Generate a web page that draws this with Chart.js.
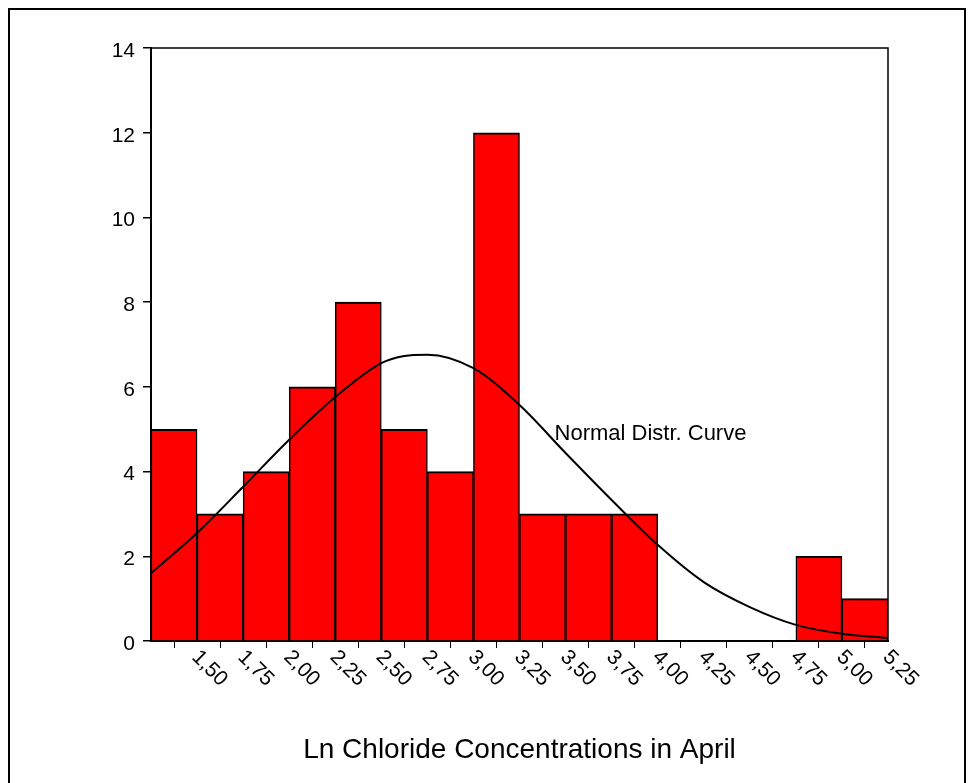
<!DOCTYPE html>
<html>
<head>
<meta charset="utf-8">
<script src="https://cdn.jsdelivr.net/npm/chart.js@4/dist/chart.umd.min.js"></script>
<style>
  body { margin: 0; background: #fff; }
  #frame { position: absolute; left: 8px; top: 8px; width: 954px; height: 820px; border: 2px solid #000; }
  #wrap { position: absolute; left: 0; top: 0; width: 973px; height: 783px; overflow: hidden; }
</style>
</head>
<body>
<div id="wrap">
  <div id="frame"></div>
  <canvas id="myChart" width="973" height="783" style="position:absolute;left:0;top:0"></canvas>
</div>
<script>
// histogram bins (lower edge of each 0,25 wide bin) and counts
const binStarts = [1.25, 1.50, 1.75, 2.00, 2.25, 2.50, 2.75, 3.00, 3.25, 3.50, 3.75, 4.00, 4.25, 4.50, 4.75, 5.00];
const counts = [5, 3, 4, 6, 8, 5, 4, 12, 3, 3, 3, 0, 0, 0, 2, 1];
const binWidth = 0.25;

// x tick labels sit on the bin edges
const tickValues = [1.50, 1.75, 2.00, 2.25, 2.50, 2.75, 3.00, 3.25, 3.50, 3.75, 4.00, 4.25, 4.50, 4.75, 5.00, 5.25];
const tickLabels = ["1,50", "1,75", "2,00", "2,25", "2,50", "2,75", "3,00", "3,25", "3,50", "3,75", "4,00", "4,25", "4,50", "4,75", "5,00", "5,25"];

// normal curve
const curveX = [1.25, 1.50, 1.75, 2.00, 2.25, 2.50, 2.625, 2.75, 3.00, 3.25, 3.50, 3.75, 4.00, 4.25, 4.50, 4.75, 5.00, 5.25];
const curveY = [1.6, 2.55, 3.64, 4.75, 5.76, 6.56, 6.73, 6.76, 6.44, 5.57, 4.44, 3.33, 2.27, 1.39, 0.8, 0.38, 0.17, 0.07];

const curveLabel = "Normal Distr. Curve";
const axisTitle = "Ln Chloride Concentrations in April";
const FONT = "'Liberation Sans', Arial, sans-serif";

const ctx = document.getElementById("myChart").getContext("2d");

// rotated edge labels, frame of the plot, curve label
const extras = {
  id: "extras",
  afterDatasetsDraw(chart) {
    const { ctx, chartArea: a, scales: { x, y } } = chart;
    ctx.save();
    ctx.strokeStyle = "#000";
    ctx.lineWidth = 1.5;
    ctx.beginPath();
    ctx.moveTo(a.left, a.top);
    ctx.lineTo(a.right, a.top);
    ctx.lineTo(a.right, a.bottom);
    ctx.stroke();

    ctx.fillStyle = "#000";
    ctx.font = "22px " + FONT;
    ctx.textAlign = "left";
    ctx.textBaseline = "alphabetic";
    ctx.fillText(curveLabel, x.getPixelForValue(3.44), y.getPixelForValue(4.74));

    ctx.font = "21px " + FONT;
    ctx.textBaseline = "middle";
    tickValues.forEach((v, i) => {
      const px = x.getPixelForValue(v);
      ctx.save();
      ctx.translate(px - 2, a.bottom + 13);
      ctx.rotate(Math.PI / 4);
      ctx.fillText(tickLabels[i], 0, 0);
      ctx.restore();
    });
    ctx.restore();
  }
};

const chart = new Chart(ctx, {
  data: {
    datasets: [
      {
        type: "line",
        order: 0,
        data: curveX.map((v, i) => ({ x: v, y: curveY[i] })),
        borderColor: "#000",
        borderWidth: 2,
        pointRadius: 0,
        cubicInterpolationMode: "monotone",
        fill: false
      },
      {
        type: "bar",
        order: 1,
        data: binStarts.map((v, i) => ({ x: v + binWidth / 2, y: counts[i] })),
        backgroundColor: "#ff0000",
        borderColor: "#000",
        borderWidth: { top: 2, left: 1.5, right: 1.5, bottom: 0 },
        borderSkipped: "bottom",
        barPercentage: 1,
        categoryPercentage: 1
      }
    ]
  },
  options: {
    responsive: false,
    animation: false,
    layout: { padding: { left: 0, top: 48, right: 85, bottom: 0 } },
    plugins: { legend: { display: false }, tooltip: { enabled: false } },
    scales: {
      x: {
        type: "linear",
        min: 1.25,
        max: 5.25,
        offset: false,
        afterBuildTicks: s => { s.ticks = binStarts.map(v => ({ value: v + binWidth / 2 })); },
        afterFit: s => { s.height = 142; },
        ticks: { display: false },
        grid: { drawOnChartArea: false, drawTicks: true, tickLength: 7, color: "#000", lineWidth: 1, offset: false },
        border: { color: "#000", width: 2 },
        title: {
          display: true,
          text: axisTitle,
          color: "#000",
          font: { family: FONT, size: 28 },
          padding: { top: 0, bottom: 16 }
        }
      },
      y: {
        min: 0,
        max: 14,
        afterFit: s => { s.width = 151; },
        ticks: { stepSize: 2, color: "#000", font: { family: FONT, size: 21 }, padding: 8, labelOffset: 3 },
        grid: { drawOnChartArea: false, drawTicks: true, tickLength: 8, color: "#000", lineWidth: 1.5 },
        border: { color: "#000", width: 2 }
      }
    }
  },
  plugins: [extras]
});
</script>
</body>
</html>
